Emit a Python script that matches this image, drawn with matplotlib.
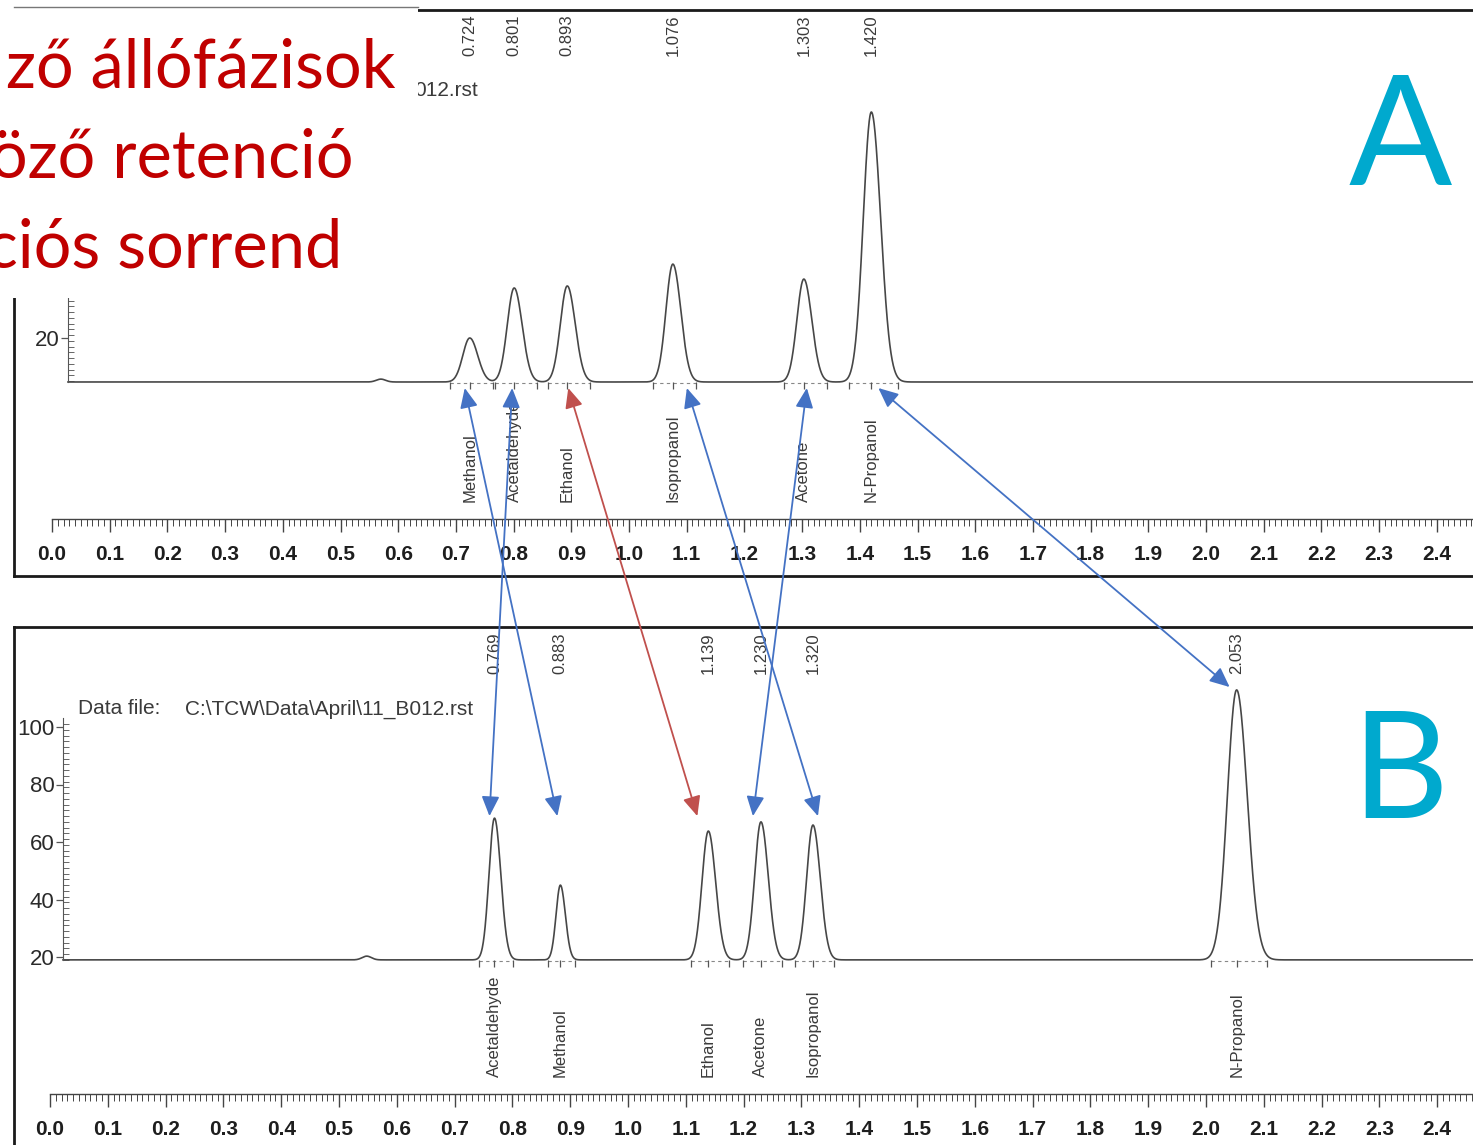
"""
plot.py - two GC chromatograms (A, B) of the same alcohol mix on different
stationary phases, with arrows pairing each compound between the two runs.
"""

import numpy as np
import matplotlib
matplotlib.use("Agg")
import matplotlib.pyplot as plt
from matplotlib import font_manager
from matplotlib.patches import ConnectionPatch, Rectangle, ArrowStyle
from matplotlib.lines import Line2D
from matplotlib.ticker import MultipleLocator, FixedLocator, FormatStrFormatter

# ---------------------------------------------------------------------------
# Data
# ---------------------------------------------------------------------------

RT_A = [0.724, 0.801, 0.893, 1.076, 1.303, 1.420]
NAMES_A = ["Methanol", "Acetaldehyde", "Ethanol", "Isopropanol", "Acetone", "N-Propanol"]
APEX_A = [20.0, 37.4, 38.1, 45.7, 40.5, 98.6]
SIGMA_A = [0.012, 0.012, 0.012, 0.012, 0.012, 0.014]
BASE_A = 4.7
BUMP_A = (0.570, 1.0)
Y_TICKS_A = [20]          # the rest of this axis sits under the caption box

RT_B = [0.769, 0.883, 1.139, 1.230, 1.320, 2.053]
NAMES_B = ["Acetaldehyde", "Methanol", "Ethanol", "Acetone", "Isopropanol", "N-Propanol"]
APEX_B = [68.3, 45.0, 63.8, 67.0, 65.9, 112.9]
SIGMA_B = [0.0095, 0.0075, 0.011, 0.011, 0.011, 0.016]
BASE_B = 19.0
BUMP_B = (0.548, 1.3)
Y_TICKS_B = [20, 40, 60, 80, 100]

X_TICKS = [round(0.1 * i, 1) for i in range(25)]

DATA_FILE = r"C:\TCW\Data\April\11_B012.rst"
DATA_FILE_TAIL = "012.rst"    # visible end of panel A's data-file line
TITLE_LINES = ["ző állófázisok", "öző retenció", "ciós sorrend"]

# ---------------------------------------------------------------------------
# Layout / style
# ---------------------------------------------------------------------------

W, H = 1473, 1145
INK = "#3a3a3a"
TRACE = "#474747"
BLUE = "#4472C4"
RED = "#C0504D"
CYAN = "#00A9CE"
DARK_RED = "#C00000"

_installed = {f.name for f in font_manager.fontManager.ttflist}
NARROW = "Liberation Sans Narrow" if "Liberation Sans Narrow" in _installed else "Liberation Sans"
SANS = "Liberation Sans"
TITLE_FONT = ["Lato", "DejaVu Sans"]

# pixel geometry of each panel: frame box, x mapping, y mapping, ruler band
PANEL_A = dict(frame=(14, 10, 1490, 576), x0=52, xscale=577, y20=338, yscale=2.875,
               yaxis=68, chrom_bottom=386, ruler=(519, 535), rt_top=14,
               name_bottom=502, spine_top=40)
PANEL_B = dict(frame=(14, 627, 1490, 1160), x0=50, xscale=578, y20=957, yscale=2.875,
               yaxis=63, chrom_bottom=965, ruler=(1094, 1110), rt_top=632,
               name_bottom=1077, spine_top=103)

# small horizontal nudges (px) for the arrow tips
NUDGE_A = {"Methanol": -5, "Acetaldehyde": -2, "Ethanol": 1, "Isopropanol": 14,
           "Acetone": 3, "N-Propanol": 7}
NUDGE_B = {"Methanol": -3, "Acetaldehyde": -5, "Ethanol": -11, "Isopropanol": 5,
           "Acetone": -8, "N-Propanol": -7}


def axes_px(fig, left, top, right, bottom, **kw):
    return fig.add_axes([left / W, 1 - bottom / H, (right - left) / W, (bottom - top) / H], **kw)


def trace(x, rts, apex, sigma, base, bump):
    y = np.full_like(x, base)
    for rt, a, s in zip(rts, apex, sigma):
        s_eff = np.where(x < rt, s, 1.15 * s)
        y += (a - base) * np.exp(-0.5 * ((x - rt) / s_eff) ** 2)
    y += bump[1] * np.exp(-0.5 * ((x - bump[0]) / 0.008) ** 2)
    return y


def draw_panel(fig, cfg, rts, names, apex, sigma, base, bump, yticks):
    fl, ft, fr, fb = cfg["frame"]

    # outer box
    frame = axes_px(fig, fl, ft, fr, fb)
    frame.set_xticks([])
    frame.set_yticks([])
    frame.patch.set_alpha(0)
    for side in ("left", "top", "bottom"):
        frame.spines[side].set_linewidth(2)
        frame.spines[side].set_color("#1a1a1a")
    frame.spines["right"].set_visible(False)

    # chromatogram
    left = cfg["yaxis"]
    bottom = cfg["chrom_bottom"]
    ax = axes_px(fig, left, ft, W, bottom)
    ax.patch.set_alpha(0)
    ylim = (20 + (cfg["y20"] - bottom) / cfg["yscale"], 20 + (cfg["y20"] - ft) / cfg["yscale"])
    ax.set_xlim((left - cfg["x0"]) / cfg["xscale"], (W - cfg["x0"]) / cfg["xscale"])
    ax.set_ylim(*ylim)

    x = np.linspace(ax.get_xlim()[0], ax.get_xlim()[1], 6000)
    ax.plot(x, trace(x, rts, apex, sigma, base, bump), color=TRACE, lw=1.2, clip_on=False)

    tick_len = 2.4
    for rt, s in zip(rts, sigma):
        start, end = rt - 2.8 * s, rt + 3.3 * s
        ax.plot([start, end], [base - 0.5, base - 0.5], color="#888888", lw=0.8,
                ls=(0, (3, 3)), clip_on=False)
        ax.vlines([start, rt, end], base - tick_len, base, color="#555555", lw=0.9, clip_on=False)

    for side in ("top", "right", "bottom"):
        ax.spines[side].set_visible(False)
    ax.spines["left"].set_bounds(base, cfg["spine_top"])
    ax.spines["left"].set_color("#555555")
    ax.set_xticks([])
    ax.set_yticks(yticks)
    ax.yaxis.set_minor_locator(FixedLocator(np.arange(np.ceil(base), cfg["spine_top"], 2)))
    ax.tick_params(axis="y", which="major", direction="out", length=5, width=0.9,
                   colors="#555555", labelcolor="#2a2a2a", labelsize=16, pad=1,
                   labelfontfamily=NARROW)
    ax.tick_params(axis="y", which="minor", direction="in", length=4, width=0.7, colors="#666666")
    ax.set_ylim(*ylim)

    # retention time labels (top) and compound names (under baseline)
    span = bottom - ft
    for rt, name in zip(rts, names):
        ax.text(rt, (bottom - cfg["rt_top"]) / span, f"{rt:.3f}", transform=ax.get_xaxis_transform(),
                rotation=90, ha="center", va="top", fontsize=12, family=SANS, color=INK)
        ax.text(rt, (bottom - cfg["name_bottom"]) / span, name, transform=ax.get_xaxis_transform(),
                rotation=90, ha="center", va="bottom", fontsize=12, family=SANS, color=INK,
                clip_on=False)

    # time ruler
    r_top, r_bot = cfg["ruler"]
    rx = axes_px(fig, cfg["x0"], r_top, W, r_bot)
    rx.patch.set_alpha(0)
    rx.set_xlim(0, (W - cfg["x0"]) / cfg["xscale"])
    rx.set_yticks([])
    for side in ("left", "right", "bottom"):
        rx.spines[side].set_visible(False)
    rx.spines["top"].set_color("#444444")
    rx.spines["top"].set_linewidth(1.0)
    rx.set_xticks(X_TICKS)
    rx.xaxis.set_minor_locator(MultipleLocator(0.01))
    rx.xaxis.set_major_formatter(FormatStrFormatter("%.1f"))
    rx.tick_params(axis="x", which="both", direction="in", top=True, bottom=False,
                   labeltop=False, labelbottom=True, colors="#444444")
    rx.tick_params(axis="x", which="major", length=9, width=1.0, pad=7,
                   labelsize=15, labelcolor="#1e1e1e", labelfontfamily=NARROW)
    rx.tick_params(axis="x", which="minor", length=5, width=0.7)
    for lbl in rx.get_xticklabels():
        lbl.set_fontweight("bold")
    return ax


def main():
    fig = plt.figure(figsize=(W / 100, H / 100), dpi=100)

    ax_a = draw_panel(fig, PANEL_A, RT_A, NAMES_A, APEX_A, SIGMA_A, BASE_A, BUMP_A, Y_TICKS_A)
    ax_b = draw_panel(fig, PANEL_B, RT_B, NAMES_B, APEX_B, SIGMA_B, BASE_B, BUMP_B, Y_TICKS_B)

    # data-file lines
    fy_b = 1 - 709 / H
    fig.text(78 / W, fy_b, "Data file:", fontsize=15, family=SANS, color=INK, va="center")
    fig.text(185 / W, fy_b, DATA_FILE, fontsize=15, family=SANS, color=INK, va="center")
    fig.text(478 / W, 1 - 91 / H, DATA_FILE_TAIL, fontsize=15, family=SANS, color=INK,
             va="center", ha="right")

    # white text box with the red caption over the top-left corner
    fig.add_artist(Rectangle((0, 1 - 298 / H), 418 / W, 290 / H, transform=fig.transFigure,
                             facecolor="white", edgecolor="none", zorder=5))
    fig.add_artist(Line2D([14 / W, 418 / W], [1 - 7 / H, 1 - 7 / H], transform=fig.transFigure,
                          color="#777777", lw=1.0, zorder=5))
    for line, right_px, base_px in zip(TITLE_LINES, [395, 353, 342], [88, 178, 267]):
        fig.text(right_px / W, 1 - base_px / H, line, ha="right", va="baseline",
                 fontsize=48, family=TITLE_FONT, color=DARK_RED, zorder=6)

    # panel letters
    fig.text(1400 / W, 1 - 185 / H, "A", ha="center", va="baseline", fontsize=110,
             family=TITLE_FONT, color=CYAN, zorder=6)
    fig.text(1400 / W, 1 - 818 / H, "B", ha="center", va="baseline", fontsize=108,
             family=TITLE_FONT, color=CYAN, zorder=6)

    # arrows pairing compounds between A and B
    style = ArrowStyle("<|-|>", head_length=0.6, head_width=0.27)
    tip_a = BASE_A - 2.1
    tip_b = 69.0
    for name, rt_a in zip(NAMES_A, RT_A):
        i = NAMES_B.index(name)
        xa = rt_a + NUDGE_A[name] / PANEL_A["xscale"]
        xb = RT_B[i] + NUDGE_B[name] / PANEL_B["xscale"]
        yb = APEX_B[i] + 1.0 if name == "N-Propanol" else tip_b
        color = RED if name == "Ethanol" else BLUE
        con = ConnectionPatch(xyA=(xa, tip_a), coordsA=ax_a.transData,
                              xyB=(xb, yb), coordsB=ax_b.transData,
                              arrowstyle=style, mutation_scale=20, color=color,
                              lw=1.3, shrinkA=0, shrinkB=0, zorder=7)
        fig.add_artist(con)

    fig.savefig("out.png", dpi=100)


if __name__ == "__main__":
    main()
